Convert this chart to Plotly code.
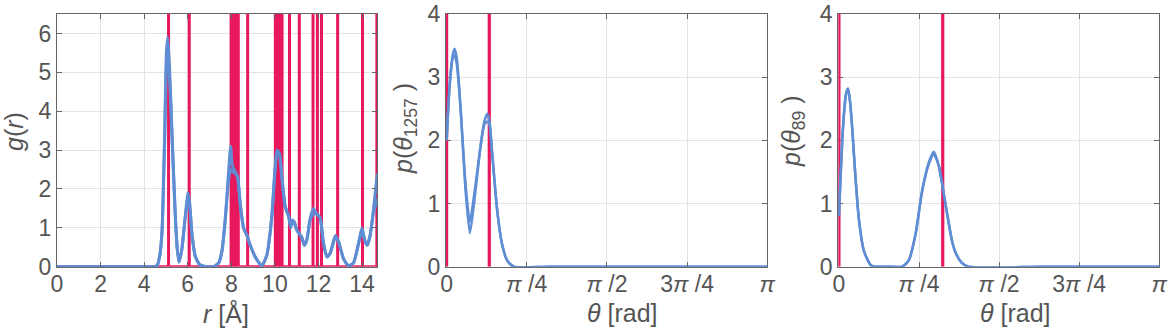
import plotly.graph_objects as go
import math

# ---------------- data ----------------
# Left panel: radial distribution g(r), two runs
r_vals = [0.0, 1.0, 2.0, 3.0, 4.0, 4.45, 4.6, 4.72, 4.82, 4.94, 5.02, 5.08, 5.16, 5.28, 5.43, 5.52, 5.6, 5.73,
          5.89, 6.0, 6.08, 6.19, 6.35, 6.55, 6.85, 7.2, 7.42, 7.57, 7.72, 7.87, 7.97, 8.05, 8.18, 8.29,
          8.41, 8.56, 8.72, 8.87, 9.1, 9.4, 9.63, 9.86, 10.0, 10.1, 10.21, 10.32, 10.47, 10.63, 10.72,
          10.8, 10.9, 11.0, 11.12, 11.24, 11.35, 11.47, 11.62, 11.77, 11.93, 12.08, 12.23, 12.39, 12.54,
          12.77, 12.92, 13.15, 13.38, 13.61, 13.84, 13.99, 14.14, 14.24, 14.37, 14.53, 14.7]
g_run1 = [0.0, 0.0, 0.0, 0.0, 0.0, 0.0, 0.03, 0.3, 0.9, 3.4, 5.5, 5.9, 5.2, 3.4, 1.3, 0.45, 0.12, 0.45,
          1.3, 1.9, 1.7, 0.86, 0.26, 0.05, 0.0, 0.0, 0.1, 0.4, 1.2, 2.4, 3.1, 2.6, 2.45, 2.3,
          1.6, 1.0, 0.8, 0.55, 0.25, 0.02, 0.3, 1.3, 2.5, 3.0, 2.9, 2.3, 1.55, 1.3, 1.05,
          1.2, 1.15, 0.95, 0.85, 0.75, 0.55, 0.7, 1.25, 1.5, 1.35, 1.25, 0.6, 0.25, 0.35,
          0.8, 0.65, 0.2, 0.02, 0.1, 0.6, 1.0, 0.65, 0.55, 0.8, 1.5, 2.4]
g_run2 = [0.0, 0.0, 0.0, 0.0, 0.0, 0.0, 0.03, 0.3, 0.9, 3.2, 5.1, 5.3, 4.9, 3.3, 1.3, 0.45, 0.12, 0.45,
          1.3, 1.7, 1.6, 0.86, 0.26, 0.05, 0.0, 0.0, 0.1, 0.4, 1.2, 2.2, 2.5, 2.45, 2.4, 2.3,
          1.6, 1.0, 0.8, 0.55, 0.25, 0.02, 0.3, 1.3, 2.4, 2.9, 2.9, 2.3, 1.55, 1.3, 1.0,
          1.15, 1.1, 0.95, 0.85, 0.75, 0.55, 0.7, 1.2, 1.35, 1.35, 1.25, 0.6, 0.25, 0.35,
          0.75, 0.65, 0.2, 0.02, 0.1, 0.6, 0.9, 0.65, 0.55, 0.8, 1.4, 1.75]
r_ref = [5.12, 6.07, 7.99, 8.10, 8.21, 8.32, 8.75, 10.02, 10.12, 10.22, 10.33, 10.67, 11.12,
         11.75, 11.95, 12.14, 12.88, 14.02, 14.68]

# Middle panel: p(theta_1257)
th_mid = [0.0, 0.03, 0.06, 0.078, 0.1, 0.137, 0.186, 0.228, 0.283, 0.332, 0.37, 0.398, 0.42, 0.446,
          0.495, 0.544, 0.593, 0.658, 1.0, 2.0, math.pi]
p_mid_run1 = [2.0, 2.9, 3.35, 3.45, 3.3, 2.5, 1.2, 0.53, 1.2, 1.9, 2.3, 2.42, 2.3, 1.8,
              0.9, 0.35, 0.1, 0.0, 0.0, 0.0, 0.0]
p_mid_run2 = [2.0, 2.85, 3.3, 3.35, 3.2, 2.5, 1.3, 0.71, 1.3, 1.9, 2.25, 2.3, 2.25, 1.8,
              0.9, 0.35, 0.1, 0.0, 0.0, 0.0, 0.0]
th_mid_ref = [0.0, 0.418]

# Right panel: p(theta_89)
th_right = [0.0, 0.04, 0.07, 0.091, 0.11, 0.13, 0.163, 0.196, 0.245, 0.31, 0.36, 0.5, 0.62, 0.685,
            0.75, 0.816, 0.881, 0.93, 0.979, 1.044, 1.11, 1.15, 1.2, 1.27, 2.0, math.pi]
p_right_run1 = [0.8, 2.2, 2.75, 2.82, 2.6, 2.2, 1.4, 0.75, 0.25, 0.03, 0.0, 0.0, 0.0, 0.1,
                0.5, 1.2, 1.65, 1.82, 1.6, 1.0, 0.4, 0.2, 0.07, 0.0, 0.0, 0.0]
p_right_run2 = [0.8, 2.2, 2.72, 2.8, 2.6, 2.2, 1.4, 0.75, 0.25, 0.03, 0.0, 0.0, 0.0, 0.1,
                0.5, 1.2, 1.62, 1.78, 1.6, 1.0, 0.4, 0.2, 0.07, 0.0, 0.0, 0.0]
th_right_ref = [0.0, 1.018]

x_ticks_left = [0, 2, 4, 6, 8, 10, 12, 14]
y_ticks_left = [0, 1, 2, 3, 4, 5, 6]
theta_tickvals = [0, math.pi / 4, math.pi / 2, 3 * math.pi / 4, math.pi]
theta_ticktext = ["0", "<i>π</i> /4", "<i>π</i> /2", "3<i>π</i> /4", "<i>π</i>"]
y_ticks_theta = [0, 1, 2, 3, 4]

# ---------------- style ----------------
BLUE = "#5f8dd3"
RED = "#e8185d"
TXT = "#555555"
GRID = "#e2e3ea"
AXL = "#666666"
FONT = "Liberation Sans"

W, H = 1169, 334


def deltas(xs, top, x0=None, x1=None):
    xx, yy = [], []
    if x0 is not None:
        xx.append(x0); yy.append(0)
    for v in xs:
        if x0 is None:
            xx += [v, v, None]
            yy += [0, top, None]
        else:
            xx += [v, v, v]
            yy += [0, top, 0]
    if x1 is not None:
        xx.append(x1); yy.append(0)
    return xx, yy


fig = go.Figure()

# left
dx, dy = deltas(r_ref, 6.5, 0, 14.7)
fig.add_trace(go.Scatter(x=dx, y=dy, mode="lines", line=dict(color=RED, width=3), xaxis="x", yaxis="y"))
for g in (g_run2, g_run1):
    fig.add_trace(go.Scatter(x=r_vals, y=g, mode="lines", line=dict(color=BLUE, width=3, shape="spline", smoothing=0.5),
                             xaxis="x", yaxis="y"))
# middle
dx, dy = deltas(th_mid_ref, 4)
fig.add_trace(go.Scatter(x=dx, y=dy, mode="lines", line=dict(color=RED, width=3.2), xaxis="x2", yaxis="y2"))
for p in (p_mid_run2, p_mid_run1):
    fig.add_trace(go.Scatter(x=th_mid, y=p, mode="lines", line=dict(color=BLUE, width=2.5, shape="spline", smoothing=0.6),
                             xaxis="x2", yaxis="y2"))
# right
dx, dy = deltas(th_right_ref, 4)
fig.add_trace(go.Scatter(x=dx, y=dy, mode="lines", line=dict(color=RED, width=3.2), xaxis="x3", yaxis="y3"))
for p in (p_right_run2, p_right_run1):
    fig.add_trace(go.Scatter(x=th_right, y=p, mode="lines", line=dict(color=BLUE, width=2.5, shape="spline", smoothing=0.6),
                             xaxis="x3", yaxis="y3"))

common = dict(showline=True, linecolor=AXL, linewidth=1.3, mirror="ticks", ticks="inside", ticklen=5,
              tickcolor=AXL, showgrid=True, gridcolor=GRID, gridwidth=1, zeroline=False, automargin=False,
              ticklabeloverflow="allow", tickfont=dict(family=FONT, size=23, color=TXT))
xcommon = dict(common, ticklabelstandoff=-3)
ycommon_theta = dict(common, layer="below traces")

doms = [(57 / W, 377.3 / W), (446 / W, 767.3 / W), (838.3 / W, 1159.3 / W)]
ydom = ((H - 266.7) / H, (H - 14) / H)
th_lo = -0.006

fig.update_layout(
    width=W, height=H, margin=dict(l=0, r=0, t=0, b=0),
    paper_bgcolor="white", plot_bgcolor="white", showlegend=False,
    xaxis=dict(domain=doms[0], range=[0, 14.7], tickvals=x_ticks_left, anchor="y", **xcommon),
    yaxis=dict(domain=ydom, range=[0, 6.5], tickvals=y_ticks_left, anchor="x", **common),
    xaxis2=dict(domain=doms[1], range=[th_lo, math.pi], tickvals=theta_tickvals, ticktext=theta_ticktext, anchor="y2",
                **xcommon),
    yaxis2=dict(domain=ydom, range=[0, 4], tickvals=y_ticks_theta, anchor="x2", **ycommon_theta),
    xaxis3=dict(domain=doms[2], range=[th_lo, math.pi], tickvals=theta_tickvals, ticktext=theta_ticktext, anchor="y3",
                **xcommon),
    yaxis3=dict(domain=ydom, range=[0, 4], tickvals=y_ticks_theta, anchor="x3", **ycommon_theta),
)

tfont = dict(family=FONT, size=25, color=TXT)
titles = [
    ("<i>r</i> [Å]", 226, 313, 0),
    ("<i>θ</i> [rad]", 622, 313, 0),
    ("<i>θ</i> [rad]", 1015, 313, 0),
    ("<i>g</i>(<i>r</i>)", 14, 132, -90),
    ("<i>p</i>(<i>θ</i><sub>1257</sub> )", 405, 129, -90),
    ("<i>p</i>(<i>θ</i><sub>89</sub> )", 793, 131, -90),
]
for txt, px, py, ang in titles:
    fig.add_annotation(text=txt, x=px / W, y=1 - py / H, xref="paper", yref="paper", showarrow=False,
                       textangle=ang, font=tfont, xanchor="center", yanchor="middle")

fig.write_html("out.html")
